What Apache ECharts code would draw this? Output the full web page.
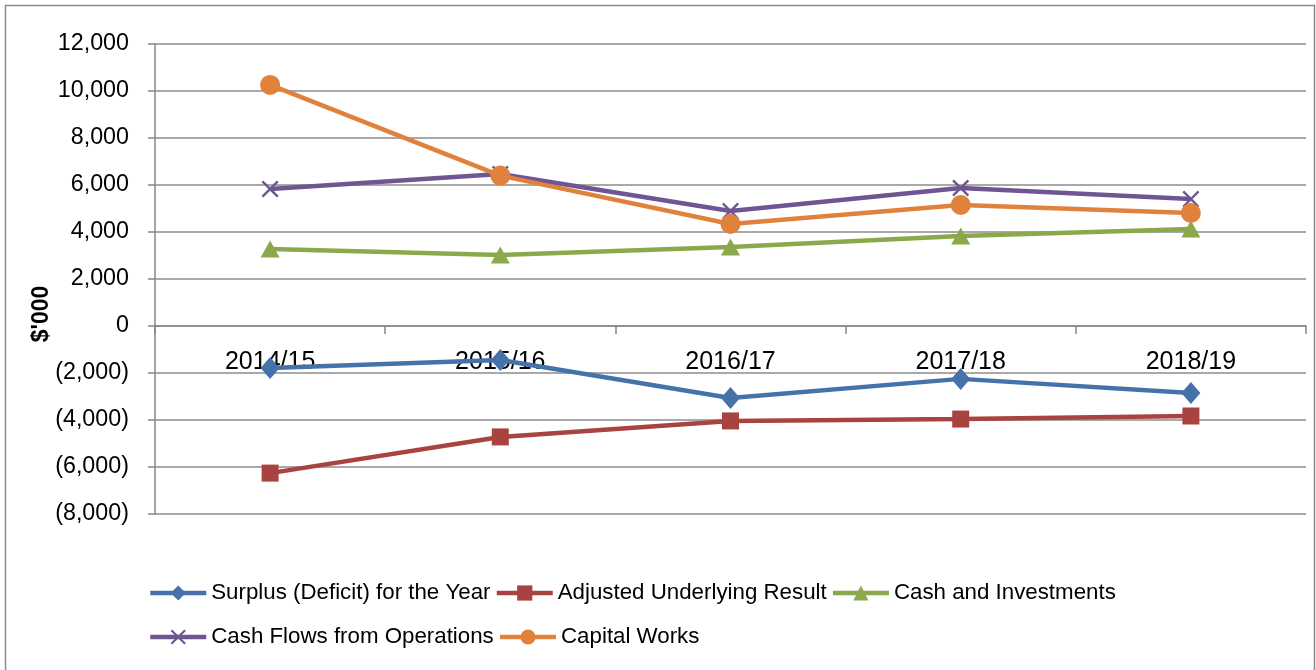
<!DOCTYPE html>
<html><head><meta charset="utf-8">
<script src="https://cdn.jsdelivr.net/npm/echarts@6/dist/echarts.min.js"></script>
<style>html,body{margin:0;padding:0;background:#fff}#c{width:1316px;height:670px}</style>
</head><body><div id="c"></div>
<script>
const categories = ['2014/15','2015/16','2016/17','2017/18','2018/19'];
const surplus = [-1790, -1450, -3060, -2250, -2850];
const adjusted = [-6260, -4720, -4040, -3960, -3830];
const cashInv = [3280, 3020, 3360, 3830, 4130];
const cashFlows = [5830, 6470, 4890, 5870, 5400];
const capitalWorks = [10260, 6400, 4340, 5150, 4810];
const seriesNames = ['Surplus (Deficit) for the Year','Adjusted Underlying Result','Cash and Investments','Cash Flows from Operations','Capital Works'];
const yTicks = {min:-8000, max:12000, interval:2000};

const FONT = '"Liberation Sans", Arial, sans-serif';
const crossPath = 'path://M0,1L1,0L5,4L9,0L10,1L6,5L10,9L9,10L5,6L1,10L0,9L4,5Z';
const colors = ['#4573A9','#A8433F','#89A94B','#6F5591','#E0823C'];
const symbols = ['diamond','rect','triangle',crossPath,'circle'];
const sizes = [[19,22],17,[19,17],17,20];
const dataSets = [surplus, adjusted, cashInv, cashFlows, capitalWorks];

const gridTop = 44, gridBottom = 156, H = 670;
const chart = echarts.init(document.getElementById('c'), null, {renderer:'canvas'});
const plotH = H - gridTop - gridBottom;
const zeroFromBottom = plotH * (0 - yTicks.min) / (yTicks.max - yTicks.min);
const legendBase = {left:148, padding:0, itemWidth:56, itemHeight:19, itemGap:4,
  lineStyle:{width:4.5}, textStyle:{fontFamily:FONT, fontSize:22.3, color:'#000'}};
chart.setOption({
  animation:false,
  backgroundColor:'#fff',
  grid:{left:155, right:10, top:gridTop, bottom:gridBottom, containLabel:false},
  xAxis:{
    type:'category', data:categories, boundaryGap:true, position:'bottom',
    offset:-zeroFromBottom,
    axisLine:{onZero:false, lineStyle:{color:'#878787', width:1.5}},
    axisTick:{show:true, length:8, lineStyle:{color:'#878787', width:1.5}},
    axisLabel:{margin:24, color:'#000', fontFamily:FONT, fontSize:25},
    splitLine:{show:false}
  },
  yAxis:{
    type:'value', min:yTicks.min, max:yTicks.max, interval:yTicks.interval,
    axisLine:{show:true, lineStyle:{color:'#878787', width:1.5}},
    axisTick:{show:true, length:7, lineStyle:{color:'#878787', width:1.5}},
    axisLabel:{margin:26, color:'#000', fontFamily:FONT, fontSize:23.3,
      formatter:function(v){const s=Math.abs(v).toLocaleString('en-US'); return v<0?'('+s+')':s;}},
    splitLine:{show:true, lineStyle:{color:'#8c8c8c', width:1.5}}
  },
  legend:[
    Object.assign({data:seriesNames.slice(0,3), top:582}, legendBase),
    Object.assign({data:seriesNames.slice(3), top:626}, legendBase)
  ],
  graphic:[
    {type:'rect', shape:{x:5.5, y:5.5, width:1309, height:680}, style:{fill:'none', stroke:'#8a8a8a', lineWidth:1.5}, silent:true},
    {type:'text', x:42, y:314, rotation:Math.PI/2, style:{text:"$'000", fontFamily:FONT, fontWeight:'bold', fontSize:23, fill:'#000', align:'center', verticalAlign:'middle'}}
  ],
  series: dataSets.map((d,i)=>({
    name:seriesNames[i], type:'line', data:d,
    symbol:symbols[i], symbolSize:sizes[i], showSymbol:true,
    lineStyle:{color:colors[i], width:4.5},
    itemStyle:{color:colors[i]},
    z:2+i
  }))
});
</script></body></html>
